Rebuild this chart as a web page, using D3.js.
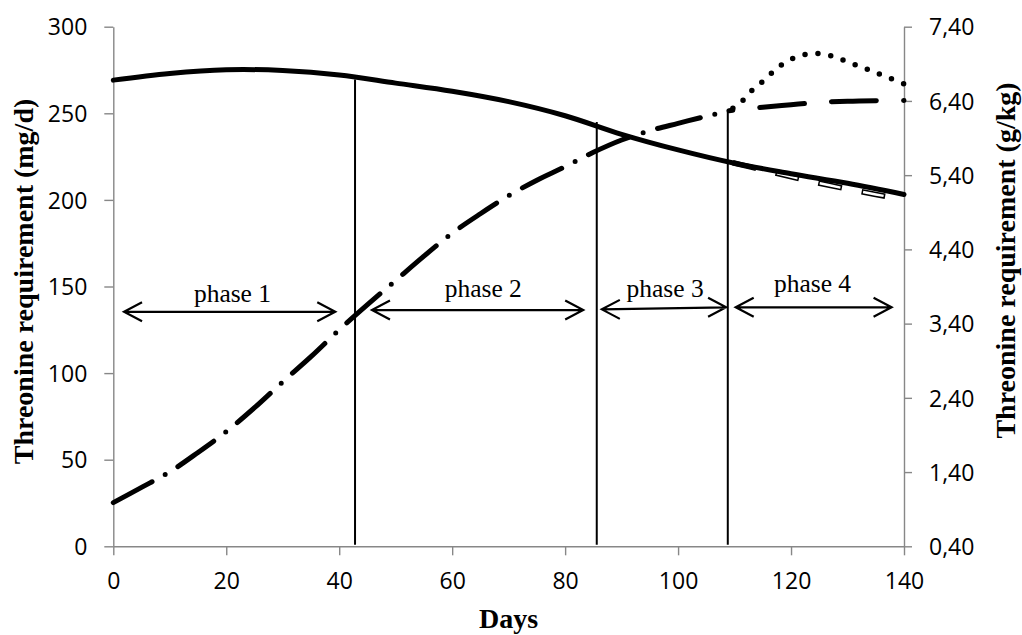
<!DOCTYPE html>
<html>
<head>
<meta charset="utf-8">
<script src="https://cdn.jsdelivr.net/npm/d3@7/dist/d3.min.js"></script>
<style>
  html, body { margin: 0; padding: 0; background: #fff; }
  svg { display: block; }
</style>
</head>
<body>
<svg id="chart" width="1022" height="635"></svg>
<script>
// ---- data ----------------------------------------------------------
// Daily threonine requirement (mg/d) over the growing period
const growthDays = [0, 5, 10, 15, 20, 25, 30, 35, 40, 45, 50, 55, 60, 65, 70, 75, 80, 85, 90, 95, 100, 105, 109];
const dailyRequirement = [25.2, 34, 43, 54.2, 66.2, 80, 95, 109.5, 125, 139.5, 153.5, 167.5, 180.8, 192, 202.4, 211.4, 219.2, 227.5, 234.6, 240, 244.2, 248.3, 251.5];

// Late-phase continuation, scenario A (mg/d)
const lateDaysA = [109, 111, 113, 115, 117, 119, 121, 123, 125, 127, 129, 131, 133, 135, 137, 140];
const lateRequirementA = [251.5, 256, 263, 268.5, 274.5, 279.5, 282.5, 284.2, 284.5, 283.3, 281, 278.5, 276, 273.5, 271, 267];

// Late-phase continuation, scenario B (mg/d)
const lateDaysB = [109, 115, 120, 125, 130, 135, 140];
const lateRequirementB = [251.5, 253.5, 255, 256.3, 257, 257.3, 257.4];

// Dietary threonine concentration (g/kg)
const dietDays = [0, 10, 20, 30, 40, 50, 60, 70, 80, 90, 100, 110, 120, 130, 140];
const dietConcentration = [6.68, 6.77, 6.82, 6.81, 6.75, 6.64, 6.53, 6.39, 6.20, 5.95, 5.74, 5.56, 5.42, 5.29, 5.14];

// Dietary concentration, late-phase alternative (g/kg)
const altDietDays = [109, 115, 121, 127, 135, 140];
const altDietConcentration = [5.58, 5.47, 5.36, 5.26, 5.14, 5.07];

// Feeding phases: names and boundary days
const phaseNames = ["phase 1", "phase 2", "phase 3", "phase 4"];
const phaseBoundaries = [42.8, 85.6, 108.8];

// Axis ticks
const dayTicks = [0, 20, 40, 60, 80, 100, 120, 140];
const leftTicks = [0, 50, 100, 150, 200, 250, 300];
const rightTicks = [0.4, 1.4, 2.4, 3.4, 4.4, 5.4, 6.4, 7.4];

// ---- layout --------------------------------------------------------
const plot = { left: 113.3, right: 904, top: 26.7, bottom: 546.3 };
const ink = "#000";
const axisGrey = "#878787";
const tickFont = "'Open Sans', 'Noto Sans', sans-serif";
const serif = "'Liberation Serif', 'Times New Roman', serif";

// Annotation layout for the phase arrows (days / mg/d units)
const boundaryTops = [269.5, 245, 251];
const arrowLayout = [
  { from: 1.9,  to: 39.3,  y1: 135.4, y2: 135.4, labelX: 21.1,  labelY: 140.9 },
  { from: 45.8, to: 83.2,  y1: 136.4, y2: 136.4, labelX: 65.5,  labelY: 144.0 },
  { from: 86.5, to: 108.5, y1: 136.8, y2: 138.0, labelX: 97.7,  labelY: 144.0 },
  { from: 110.2, to: 137.8, y1: 138.0, y2: 138.0, labelX: 123.8, labelY: 146.6 }
];

// ---- scales --------------------------------------------------------
const x = d3.scaleLinear().domain([0, 140]).range([plot.left, plot.right]);
const yL = d3.scaleLinear().domain([0, 300]).range([plot.bottom, plot.top]);
const yR = d3.scaleLinear().domain([0.4, 7.4]).range([plot.bottom, plot.top]);

const svg = d3.select("#chart");

// ---- axes ----------------------------------------------------------
function styleAxis(g) {
  g.select(".domain").attr("stroke", axisGrey).attr("stroke-width", 1.4);
  g.selectAll(".tick line").attr("stroke", axisGrey).attr("stroke-width", 1.4);
  g.selectAll(".tick text")
    .attr("fill", ink)
    .style("font-family", tickFont)
    .style("font-size", "23px");
}

svg.append("g")
  .attr("transform", `translate(${plot.left},0)`)
  .call(d3.axisLeft(yL).tickValues(leftTicks).tickSize(9).tickSizeOuter(0).tickPadding(17))
  .call(styleAxis)
  .call(g => g.selectAll(".tick text").attr("dy", "0.36em"));

svg.append("g")
  .attr("transform", `translate(${plot.right},0)`)
  .call(d3.axisRight(yR).tickValues(rightTicks).tickSize(8).tickSizeOuter(0).tickPadding(17)
    .tickFormat(v => d3.format(".2f")(v).replace(".", ",")))
  .call(styleAxis)
  .call(g => g.selectAll(".tick text").attr("dy", "0.36em"));

svg.append("g")
  .attr("transform", `translate(0,${plot.bottom})`)
  .call(d3.axisBottom(x).tickValues(dayTicks).tickSize(9).tickSizeOuter(0).tickPadding(17))
  .call(styleAxis)
  .call(g => g.selectAll(".tick text").attr("y", 43).attr("dy", 0));

// Axis titles
svg.append("text")
  .attr("transform", `translate(33,281.5) rotate(-90)`)
  .attr("text-anchor", "middle")
  .style("font-family", serif).style("font-weight", "bold").style("font-size", "28px")
  .attr("fill", ink)
  .text("Threonine requirement (mg/d)");

svg.append("text")
  .attr("transform", `translate(1015,260.5) rotate(-90)`)
  .attr("text-anchor", "middle")
  .style("font-family", serif).style("font-weight", "bold").style("font-size", "28px")
  .attr("fill", ink)
  .text("Threonine requirement (g/kg)");

svg.append("text")
  .attr("x", (plot.left + plot.right) / 2)
  .attr("y", 628)
  .attr("text-anchor", "middle")
  .style("font-family", serif).style("font-weight", "bold").style("font-size", "28px")
  .attr("fill", ink)
  .text("Days");

// ---- phase markers -------------------------------------------------
const marks = svg.append("g");

phaseBoundaries.forEach((d, i) => {
  marks.append("line")
    .attr("x1", x(d)).attr("x2", x(d))
    .attr("y1", plot.bottom - 1.5).attr("y2", yL(boundaryTops[i]))
    .attr("stroke", ink).attr("stroke-width", 2);
});

function arrowHead(tipX, tipY, dir) {
  const ax = 18 * dir, ay = 9.5;
  return `M${tipX + ax},${tipY - ay}L${tipX},${tipY}L${tipX + ax},${tipY + ay}`;
}

arrowLayout.forEach((a, i) => {
  const x1 = x(a.from), x2 = x(a.to), y1 = yL(a.y1), y2 = yL(a.y2);
  marks.append("path")
    .attr("d", `M${x1},${y1}L${x2},${y2}` + arrowHead(x1, y1, 1) + arrowHead(x2, y2, -1))
    .attr("fill", "none").attr("stroke", ink).attr("stroke-width", 2.2)
    .attr("stroke-linejoin", "miter");
  marks.append("text")
    .attr("x", x(a.labelX)).attr("y", yL(a.labelY))
    .attr("text-anchor", "middle")
    .style("font-family", serif).style("font-size", "25.5px")
    .attr("fill", ink)
    .text(phaseNames[i]);
});

// ---- curves --------------------------------------------------------
const curve = d3.curveCatmullRom.alpha(0.5);
const lineL = d3.line().x(d => x(d[0])).y(d => yL(d[1])).curve(curve);
const lineR = d3.line().x(d => x(d[0])).y(d => yR(d[1])).curve(curve);

const zip = (a, b) => a.map((v, i) => [v, b[i]]);
const series = svg.append("g").attr("fill", "none");

// Shift a dash pattern so that a dash begins just before the path's end,
// leaving a round dot at the line's last point
function alignToEnd(path, period) {
  const len = path.node().getTotalLength() - 0.6;
  path.attr("stroke-dashoffset", period - (len % period));
}

// Alternative concentration: hollow dashes (black outline, white core)
series.append("path")
  .attr("d", lineR(zip(altDietDays, altDietConcentration)))
  .attr("stroke", ink).attr("stroke-width", 5.5)
  .attr("stroke-dasharray", "24 20").attr("stroke-dashoffset", -4);
series.append("path")
  .attr("d", lineR(zip(altDietDays, altDietConcentration)))
  .attr("stroke", "#fff").attr("stroke-width", 2.4)
  .attr("stroke-dasharray", "21 23").attr("stroke-dashoffset", -5.5);

// Scenario B: long dashes
const dashed = series.append("path")
  .attr("d", lineL(zip(lateDaysB, lateRequirementB)))
  .attr("stroke", ink).attr("stroke-width", 5).attr("stroke-linecap", "round")
  .attr("stroke-dasharray", "45 27");
alignToEnd(dashed, 72);

// Scenario A: round dots
const dotted = series.append("path")
  .attr("d", lineL(zip(lateDaysA, lateRequirementA)))
  .attr("stroke", ink).attr("stroke-width", 5.5).attr("stroke-linecap", "round")
  .attr("stroke-dasharray", "0 13");
alignToEnd(dotted, 13);

// Daily requirement: dash-dot
series.append("path")
  .attr("d", lineL(zip(growthDays, dailyRequirement)))
  .attr("stroke", ink).attr("stroke-width", 5).attr("stroke-linecap", "round")
  .attr("stroke-dasharray", "44 15 0 15");

// Dietary concentration: solid
series.append("path")
  .attr("d", lineR(zip(dietDays, dietConcentration)))
  .attr("stroke", ink).attr("stroke-width", 5).attr("stroke-linecap", "round");
</script>
</body>
</html>
